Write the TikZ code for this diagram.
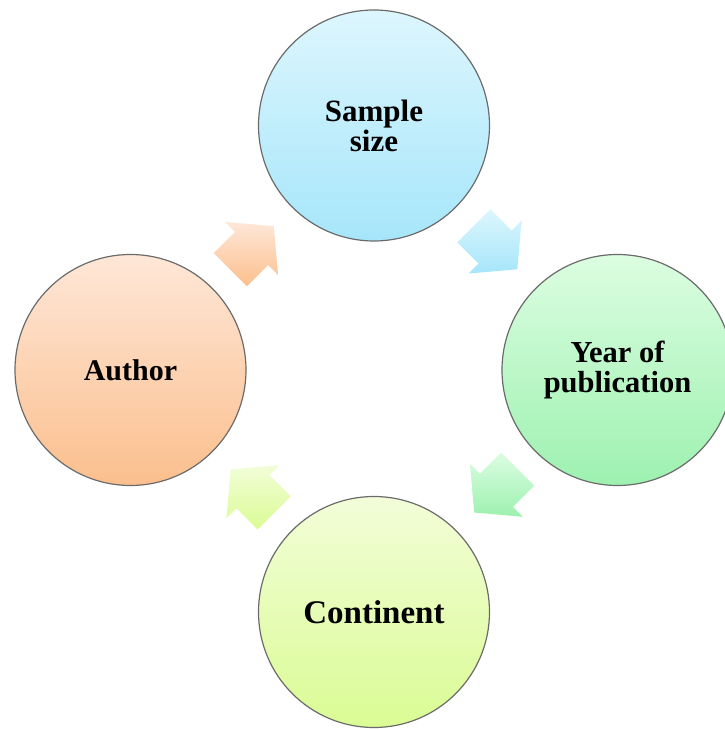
\documentclass[tikz,border=0pt]{standalone}
\usepackage{fontspec}
\setmainfont{Liberation Serif}
\usetikzlibrary{calc}

\definecolor{sizetop}{HTML}{DDF6FE}
\definecolor{sizebot}{HTML}{A6E6FA}
\definecolor{yeartop}{HTML}{DCFDE1}
\definecolor{yearbot}{HTML}{9DF1B0}
\definecolor{conttop}{HTML}{F2FDD8}
\definecolor{contbot}{HTML}{DAFC94}
\definecolor{authtop}{HTML}{FEE7D8}
\definecolor{authbot}{HTML}{FBBF8D}

\tikzset{
    topic/.style={circle, draw=black!58, line width=1.2pt, minimum size=231pt,
        inner sep=0pt, align=center, font=\bfseries\fontsize{31}{30}\selectfont},
}

% block arrow half way between two circles
\newcommand{\cyclearrow}[5]{%
    \shade[top color=#4, bottom color=#5, shift={($(#1)!0.5!(#2)$)}, rotate=#3]
        (-31,-23.5) -- (-1,-23.5) -- (-1,-37.5) -- (30.5,0) -- (-1,37.5)
        -- (-1,23.5) -- (-31,23.5) -- cycle;
}

\begin{document}
\begin{tikzpicture}[x=1pt, y=1pt]
    \useasboundingbox (0,0) rectangle (725,729);
    \node[topic, top color=sizetop, bottom color=sizebot] (size) at (374,603.5) {Sample\\size};
    \node[topic, top color=yeartop, bottom color=yearbot,
        font=\bfseries\fontsize{30.5}{30}\selectfont] (year) at (617.5,359) {Year of\\publication};
    \node[topic, top color=conttop, bottom color=contbot,
        font=\bfseries\fontsize{33}{33}\selectfont] (cont) at (374,117) {Continent};
    \node[topic, top color=authtop, bottom color=authbot,
        font=\bfseries\fontsize{30}{30}\selectfont] (auth) at (130.5,359) {Author};
    \cyclearrow{auth}{size}{45}{authtop}{authbot}
    \cyclearrow{size}{year}{-45}{sizetop}{sizebot}
    \cyclearrow{year}{cont}{-135}{yeartop}{yearbot}
    \cyclearrow{cont}{auth}{135}{conttop}{contbot}
\end{tikzpicture}
\end{document}
